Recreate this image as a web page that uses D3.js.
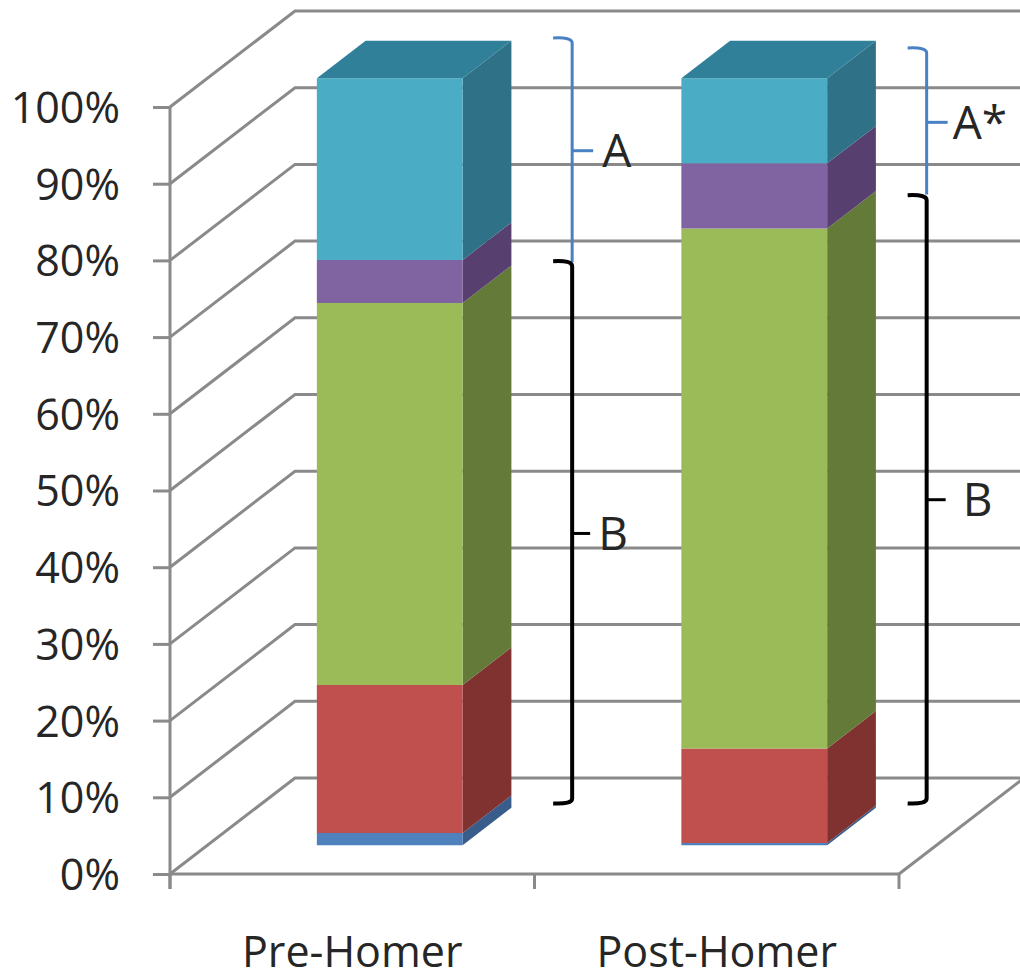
<!DOCTYPE html>
<html>
<head>
<meta charset="utf-8">
<script src="https://cdnjs.cloudflare.com/ajax/libs/d3/7.8.5/d3.min.js"></script>
<style>
  html, body { margin: 0; padding: 0; background: #fff; }
  svg { display: block; }
  text { font-family: "Open Sans", sans-serif; fill: #262626; }
</style>
</head>
<body>
<svg id="chart" width="1020" height="973"></svg>
<script>
// Stacked shares per period, bottom to top.
const categories = ["Pre-Homer", "Post-Homer"];
const seriesNames = ["s1", "s2", "s3", "s4", "s5"];
const s1 = [1.6, 0.3];
const s2 = [19.3, 12.3];
const s3 = [49.8, 67.8];
const s4 = [5.6, 8.5];
const s5 = [23.7, 11.1];
const seriesValues = [s1, s2, s3, s4, s5];
const yTicks = [0, 10, 20, 30, 40, 50, 60, 70, 80, 90, 100];

// Face colours per series.
const frontColors = ["#4f81bd", "#c0504d", "#9bbb59", "#8064a2", "#4bacc6"];
const sideColors = ["#385d8a", "#7f3230", "#647a39", "#573f70", "#2f7287"];
const topColor = "#31809a";

// Brackets: spans in percent on the value axis, hook and label per period.
const bracketPeriods = [0, 0, 1, 1];
const bracketLabels = ["A", "B", "A*", "B"];
const bracketFrom = [79.8, 9.2, 88.6, 9.2];
const bracketTo = [109, 79.9, 107.7, 88.5];
const bracketMid = [94.3, 44.4, 98.0, 48.8];
const bracketColors = ["#4a80c4", "#000000", "#4a80c4", "#000000"];
const bracketLabelGap = [30, 26, 26, 36];
const bracketTickLength = [21, 18, 21, 19];
const bracketGap = [147, 137];

const svg = d3.select("#chart");
const width = 1020;

const x = d3.scaleBand().domain(categories).range([170, 899]).paddingInner(0.6).paddingOuter(0.3);
const y = d3.scaleLinear().domain([0, 100]).range([874, 107]);

// Oblique projection of the 3D box: depth runs from 0 (front) to 1 (back wall).
const depthX = 125, depthY = 96;
const px = (xv, d) => xv + d * depthX;
const py = (v, d) => y(v) - d * depthY;
const barFront = 0.3, barBack = 0.69;

const gridColor = "#8a8a8a";
const gridWidth = 3;
const line = d3.line();

// Back wall rules with their diagonals on the left wall, plus the floor edge.
const grid = svg.append("g").attr("fill", "none").attr("stroke", gridColor).attr("stroke-width", gridWidth);
grid.selectAll("path.rule").data(yTicks).join("path").attr("class", "rule")
  .attr("d", t => line([[170, y(t)], [px(170, 1), py(t, 1)], [width + 2, py(t, 1)]]));
grid.append("path")
  .attr("d", line([[899, y(0)], [px(899, 1), py(0, 1)]]));

// Value axis.
const yAxis = svg.append("g").attr("transform", "translate(170,0)")
  .call(d3.axisLeft(y).tickValues(yTicks).tickFormat(d => d + "%").tickSize(17).tickPadding(33));
yAxis.selectAll("path, line").attr("stroke", gridColor).attr("stroke-width", gridWidth);
yAxis.select(".domain").attr("d", line([[0, y(100)], [0, y(0) + 15]]));
yAxis.selectAll("text").attr("font-size", 43).attr("dy", "0.36em").attr("fill", "#262626").style("font-family", "'Open Sans'");

// Category axis with ticks on the band boundaries.
const xAxis = svg.append("g").attr("transform", `translate(0,${y(0)})`)
  .call(d3.axisBottom(x).tickSize(0).tickPadding(62));
xAxis.select(".domain").attr("stroke", gridColor).attr("stroke-width", gridWidth).attr("d", line([[170, 0], [899, 0]]));
xAxis.selectAll("text").attr("font-size", 43).attr("fill", "#262626").style("font-family", "'Open Sans'");
xAxis.selectAll("line.edge").data([170, 170 + x.step(), 170 + 2 * x.step()]).join("line").attr("class", "edge")
  .attr("x1", d => d).attr("x2", d => d).attr("y1", 0).attr("y2", 15)
  .attr("stroke", gridColor).attr("stroke-width", gridWidth);

// Stacked boxes.
const stackRows = categories.map((c, i) => {
  const row = { category: c };
  seriesNames.forEach((s, k) => { row[s] = seriesValues[k][i]; });
  return row;
});
const layers = d3.stack().keys(seriesNames)(stackRows);
const bars = svg.append("g");

layers.forEach((layer, k) => {
  layer.forEach(seg => {
    const left = x(seg.data.category), right = left + x.bandwidth();
    const [v0, v1] = seg;
    bars.append("path").attr("fill", sideColors[k]).attr("d", line([
      [px(right, barFront), py(v0, barFront)], [px(right, barBack), py(v0, barBack)],
      [px(right, barBack), py(v1, barBack)], [px(right, barFront), py(v1, barFront)]
    ]) + "Z");
    bars.append("path").attr("fill", frontColors[k]).attr("d", line([
      [px(left, barFront), py(v0, barFront)], [px(right, barFront), py(v0, barFront)],
      [px(right, barFront), py(v1, barFront)], [px(left, barFront), py(v1, barFront)]
    ]) + "Z");
    if (k === layers.length - 1) {
      bars.append("path").attr("fill", topColor).attr("d", line([
        [px(left, barFront), py(v1, barFront)], [px(right, barFront), py(v1, barFront)],
        [px(right, barBack), py(v1, barBack)], [px(left, barBack), py(v1, barBack)]
      ]) + "Z");
    }
  });
});

// Right-hand brackets with their letter labels.
const brackets = svg.append("g").attr("fill", "none");
bracketLabels.forEach((label, i) => {
  const p = bracketPeriods[i];
  const cx = x(categories[p]) + x.bandwidth() + bracketGap[p];
  const black = bracketColors[i] === "#000000";
  const top = y(bracketTo[i]), bottom = y(bracketFrom[i]), mid = y(bracketMid[i]);
  brackets.append("path")
    .attr("stroke", bracketColors[i]).attr("stroke-width", black ? 4 : 3)
    .attr("d", `M${cx - 19},${top}Q${cx},${top - 1} ${cx},${top + 5}L${cx},${bottom - (black ? 5 : 0)}` +
      (black ? `Q${cx},${bottom + 1} ${cx - 19},${bottom}` : ""));
  brackets.append("line")
    .attr("stroke", bracketColors[i]).attr("stroke-width", 3)
    .attr("x1", cx).attr("x2", cx + bracketTickLength[i]).attr("y1", mid).attr("y2", mid);
  svg.append("text").text(label)
    .attr("x", cx + bracketLabelGap[i])
    .attr("y", mid)
    .attr("dy", "0.36em").attr("font-size", 46);
});
</script>
</body>
</html>
